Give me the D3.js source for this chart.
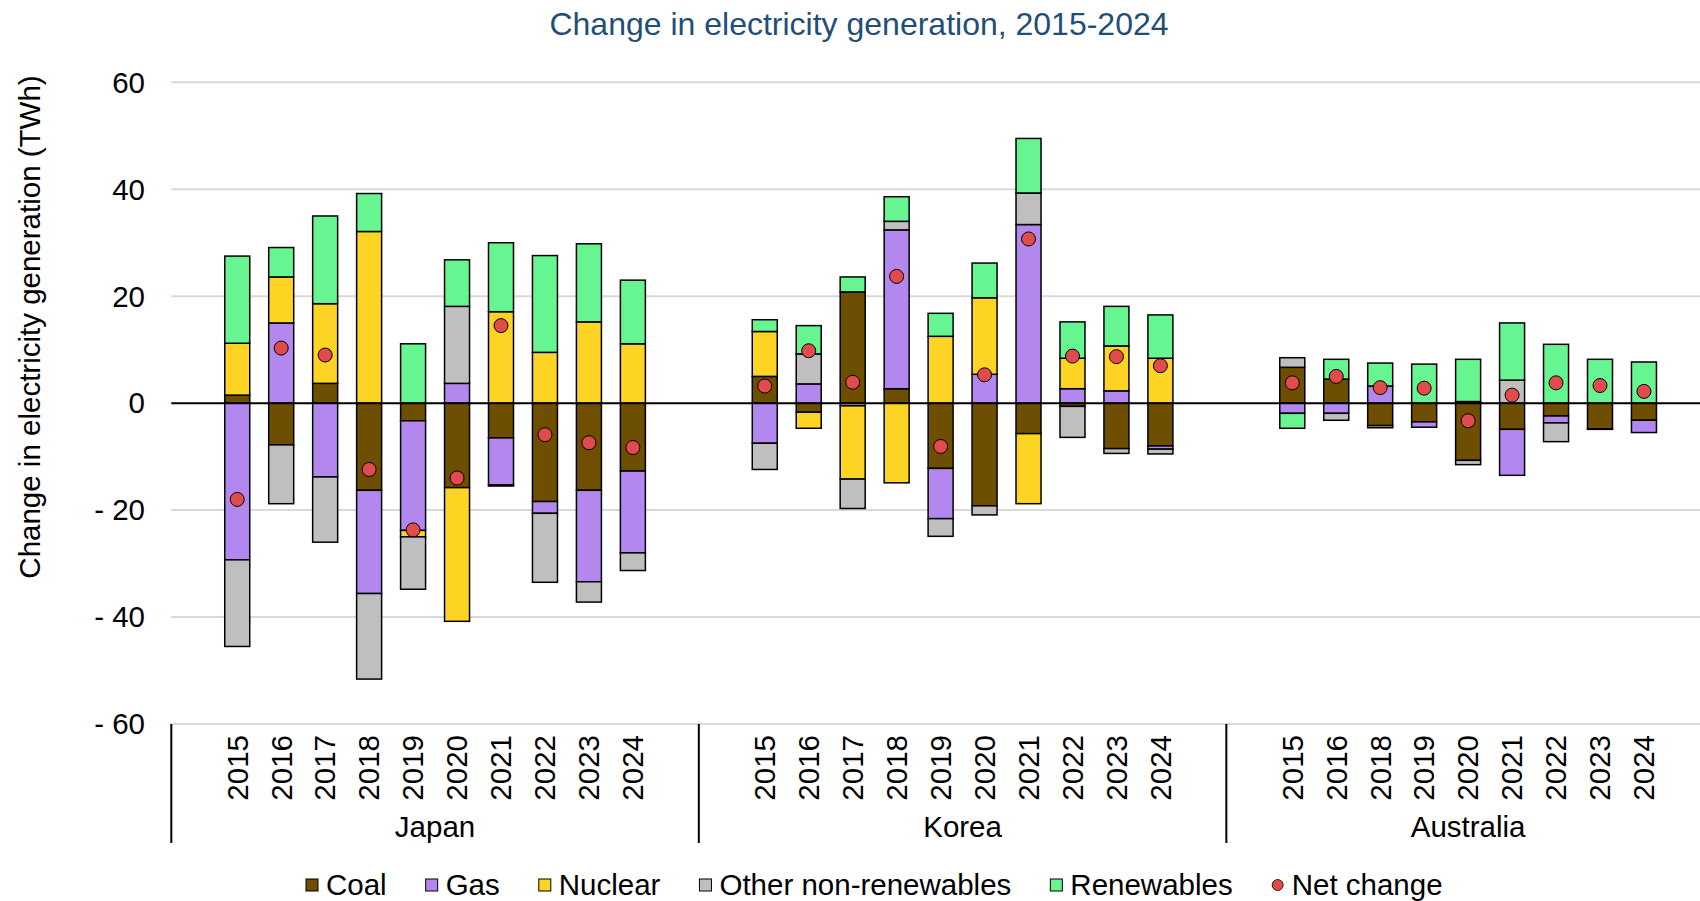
<!DOCTYPE html>
<html>
<head>
<meta charset="utf-8">
<script src="https://cdn.jsdelivr.net/npm/d3@7"></script>
<style>
  body { margin: 0; background: #fff; }
  text { font-family: "Liberation Sans", Arial, sans-serif; }
</style>
</head>
<body>
<svg id="chart" width="1700" height="901"></svg>
<script>
// series and groups
var seriesNames = ['Coal', 'Gas', 'Nuclear', 'Other non-renewables', 'Renewables'];
var seriesColors = ['#6E4E00', '#B388EE', '#FDD324', '#BFBFBF', '#66F590'];
var groupNames = ['Japan', 'Korea', 'Australia'];

var japanYears = ['2015', '2016', '2017', '2018', '2019', '2020', '2021', '2022', '2023', '2024'];
var japanCoal = [1.5, -7.8, 3.7, -16.3, -3.3, -15.8, -6.5, -18.4, -16.3, -12.7];
var japanGas = [-29.3, 15.0, -13.8, -19.3, -20.5, 3.7, -8.8, -2.2, -17.1, -15.3];
var japanNuclear = [9.7, 8.6, 14.9, 32.1, -1.2, -25.0, 17.1, 9.5, 15.2, 11.1];
var japanOther = [-16.2, -11.0, -12.2, -16.0, -9.8, 14.4, -0.2, -12.9, -3.8, -3.3];
var japanRenew = [16.3, 5.5, 16.4, 7.1, 11.1, 8.7, 12.9, 18.1, 14.6, 11.9];
var japanNet = [-18.0, 10.3, 9.0, -12.4, -23.7, -14.0, 14.5, -5.9, -7.4, -8.3];

var koreaYears = ['2015', '2016', '2017', '2018', '2019', '2020', '2021', '2022', '2023', '2024'];
var koreaCoal = [5.0, -1.7, 20.8, 2.7, -12.2, -19.2, -5.7, -0.6, -8.5, -8.0];
var koreaGas = [-7.5, 3.6, -0.5, 29.7, -9.4, 5.4, 33.4, 2.7, 2.3, -0.6];
var koreaNuclear = [8.4, -3.0, -13.7, -14.9, 12.5, 14.3, -13.1, 5.7, 8.4, 8.4];
var koreaOther = [-4.9, 5.6, -5.5, 1.6, -3.3, -1.7, 5.9, -5.8, -0.9, -0.9];
var koreaRenew = [2.2, 5.3, 2.8, 4.6, 4.3, 6.5, 10.2, 6.8, 7.4, 8.1];
var koreaNet = [3.2, 9.8, 3.9, 23.7, -8.1, 5.3, 30.7, 8.8, 8.7, 7.0];

var australiaYears = ['2015', '2016', '2018', '2019', '2020', '2021', '2022', '2023', '2024'];
var australiaCoal = [6.7, 4.5, -4.2, -3.5, -10.7, -4.9, -2.4, -4.8, -3.2];
var australiaGas = [-1.9, -1.9, 3.2, -1.0, 0.3, -8.6, -1.3, 0, -2.3];
var australiaNuclear = [0, 0, 0, 0, 0, 0, 0, 0, 0];
var australiaOther = [1.8, -1.3, -0.4, 0, -0.8, 4.3, -3.5, -0.1, 0];
var australiaRenew = [-2.8, 3.7, 4.3, 7.3, 7.9, 10.7, 11.0, 8.2, 7.7];
var australiaNet = [3.8, 5.0, 2.9, 2.8, -3.3, 1.5, 3.8, 3.3, 2.2];

var yTicks = [-60, -40, -20, 0, 20, 40, 60];

// build one row per bar
function buildRows(group, years, coal, gas, nuclear, other, renew, net) {
    return years.map(function(yr, i) {
        return { key: group + '-' + yr, group: group, year: yr,
            'Coal': coal[i], 'Gas': gas[i], 'Nuclear': nuclear[i],
            'Other non-renewables': other[i], 'Renewables': renew[i], net: net[i] };
    });
}
var rows = [].concat(
    buildRows('Japan', japanYears, japanCoal, japanGas, japanNuclear, japanOther, japanRenew, japanNet),
    buildRows('Korea', koreaYears, koreaCoal, koreaGas, koreaNuclear, koreaOther, koreaRenew, koreaNet),
    buildRows('Australia', australiaYears, australiaCoal, australiaGas, australiaNuclear, australiaOther, australiaRenew, australiaNet)
);

// category slots: an empty slot either side of each group
var slots = [];
groupNames.forEach(function(g) {
    slots.push(g + '-padL');
    rows.filter(function(r) { return r.group === g; }).forEach(function(r) { slots.push(r.key); });
    slots.push(g + '-padR');
});

var svg = d3.select('#chart');
var plotLeft = 171.3, slotW = 43.96;
var x = d3.scaleBand().domain(slots).range([plotLeft, plotLeft + slots.length * slotW]).padding(0);
var y = d3.scaleLinear().domain([-60, 60]).range([724, 82.3]);
var barW = 25;
var fs = '29.5px';

// title
svg.append('text')
    .attr('x', 859).attr('y', 35)
    .attr('text-anchor', 'middle')
    .attr('font-size', '32px')
    .attr('fill', '#1F4E79')
    .text('Change in electricity generation, 2015-2024');

// gridlines
svg.append('g').selectAll('line')
    .data(yTicks.filter(function(d) { return d !== 0; }))
    .join('line')
    .attr('x1', plotLeft).attr('x2', 1700)
    .attr('y1', d => y(d)).attr('y2', d => y(d))
    .attr('stroke', '#D9D9D9').attr('stroke-width', 2);

// y tick labels
svg.append('g').selectAll('text')
    .data(yTicks)
    .join('text')
    .attr('x', 145).attr('y', d => y(d))
    .attr('dy', '0.35em')
    .attr('text-anchor', 'end')
    .attr('font-size', fs)
    .attr('fill', '#000')
    .text(d => d < 0 ? '- ' + Math.abs(d) : d);

// y axis title
svg.append('text')
    .attr('transform', 'translate(30,327) rotate(-90)')
    .attr('text-anchor', 'middle')
    .attr('dy', '0.35em')
    .attr('font-size', fs)
    .text('Change in electricity generation (TWh)');

// stacked bars
var stack = d3.stack().keys(seriesNames).offset(d3.stackOffsetDiverging);
var layers = stack(rows);

var barG = svg.append('g');
layers.forEach(function(layer, si) {
    barG.append('g')
        .selectAll('rect')
        .data(layer.filter(d => d[1] - d[0] !== 0))
        .join('rect')
        .attr('x', d => x(d.data.key) + (x.bandwidth() - barW) / 2)
        .attr('width', barW)
        .attr('y', d => y(Math.max(d[0], d[1])))
        .attr('height', d => Math.abs(y(d[0]) - y(d[1])))
        .attr('fill', seriesColors[si])
        .attr('stroke', '#000')
        .attr('stroke-width', 1.5);
});

// zero line
svg.append('line')
    .attr('x1', plotLeft).attr('x2', 1700)
    .attr('y1', y(0)).attr('y2', y(0))
    .attr('stroke', '#000').attr('stroke-width', 2);

// net change dots
svg.append('g').selectAll('circle')
    .data(rows)
    .join('circle')
    .attr('cx', d => x(d.key) + x.bandwidth() / 2)
    .attr('cy', d => y(d.net))
    .attr('r', 7)
    .attr('fill', '#E24B4B')
    .attr('stroke', '#000')
    .attr('stroke-width', 1);

// year labels
svg.append('g').selectAll('text')
    .data(rows)
    .join('text')
    .attr('transform', d => 'translate(' + (x(d.key) + x.bandwidth() / 2) + ',735) rotate(-90)')
    .attr('text-anchor', 'end')
    .attr('dy', '0.35em')
    .attr('font-size', fs)
    .text(d => d.year);

// group dividers and names
var groupEdges = groupNames.map(g => x(g + '-padL'));
svg.append('g').selectAll('line')
    .data(groupEdges)
    .join('line')
    .attr('x1', d => d).attr('x2', d => d)
    .attr('y1', 724).attr('y2', 843)
    .attr('stroke', '#000').attr('stroke-width', 2);

svg.append('g').selectAll('text')
    .data(groupNames)
    .join('text')
    .attr('x', g => (x(g + '-padL') + x(g + '-padR') + x.bandwidth()) / 2)
    .attr('y', 837)
    .attr('text-anchor', 'middle')
    .attr('font-size', fs)
    .text(g => g);

// legend
var legendItems = seriesNames.map((s, i) => ({ name: s, color: seriesColors[i], dot: false }))
    .concat([{ name: 'Net change', color: '#E24B4B', dot: true }]);
var legend = svg.append('g');
var lx = 306, ly = 885;
legendItems.forEach(function(it) {
    if (it.dot) {
        legend.append('circle').attr('cx', lx + 6).attr('cy', ly).attr('r', 5.5)
            .attr('fill', it.color).attr('stroke', '#000').attr('stroke-width', 0.8);
    } else {
        legend.append('rect').attr('x', lx).attr('y', ly - 6).attr('width', 12).attr('height', 12)
            .attr('fill', it.color).attr('stroke', '#000').attr('stroke-width', 1);
    }
    var t = legend.append('text')
        .attr('x', lx + 20).attr('y', ly).attr('dy', '0.35em')
        .attr('font-size', fs)
        .text(it.name);
    lx += 20 + t.node().getComputedTextLength() + 39;
});
</script>
</body>
</html>
